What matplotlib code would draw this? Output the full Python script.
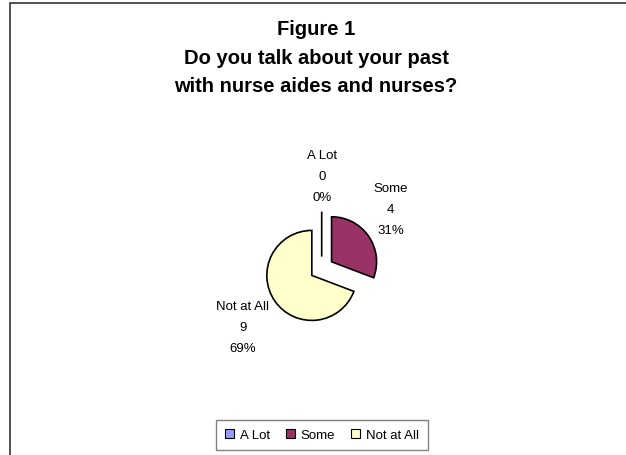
import matplotlib
matplotlib.use("Agg")
import matplotlib.pyplot as plt
import numpy as np
from matplotlib.patches import Patch, Rectangle

plt.rcParams["font.family"] = ["Liberation Sans", "DejaVu Sans"]

# respostas
categorias = ["A Lot", "Some", "Not at All"]
contagens = [0, 4, 9]
cores = ["#9999FF", "#993366", "#FFFFCC"]

titulo = "Figure 1\nDo you talk about your past\nwith nurse aides and nurses?"

W, H = 626, 456
fig = plt.figure(figsize=(W / 100, H / 100), dpi=100)
ax = fig.add_axes([0, 0, 1, 1])

# moldura do gráfico (borda esquerda e superior visíveis)
fig.add_artist(Rectangle((9.5 / W, -0.1), 1.2, 1.1 - 3.5 / H, transform=fig.transFigure,
                         fill=False, edgecolor="#222222", linewidth=1.1))

# pizza em coordenadas de pixel (y para cima)
centro = (321.7, H - 269.6)
raio = 45
wedges, _ = ax.pie(contagens, colors=cores, startangle=90, counterclock=False,
                   center=centro, radius=raio, explode=[12, 12, 12],
                   wedgeprops=dict(edgecolor="black", linewidth=1.2))
ax.set_xlim(0, W)
ax.set_ylim(0, H)
ax.set_aspect("equal")
ax.axis("off")

# rótulos: nome, contagem e percentual
total = sum(contagens)
ang_rot = [90, 42, 217]
dist_rot = [1.8, 1.76, 1.92]
for w, nome, v, a, dd in zip(wedges, categorias, contagens, ang_rot, dist_rot):
    cx, cy = w.center
    tx = cx + dd * raio * np.cos(np.radians(a))
    ty = cy + dd * raio * np.sin(np.radians(a))
    ax.text(tx, ty, f"{nome}\n{v}\n{100 * v / total:.0f}%", ha="center", va="center",
            fontsize=9.5, linespacing=2.0)

fig.text(316 / W, 1 - 20 / H, titulo, ha="center", va="top", fontsize=14.5,
         fontweight="bold", linespacing=1.65)

handles = [Patch(facecolor=c, edgecolor="black", linewidth=0.8, label=n)
           for c, n in zip(cores, categorias)]
leg = fig.legend(handles=handles, loc="center", bbox_to_anchor=(322 / W, 1 - 436 / H),
                 ncol=3, fontsize=9.5, frameon=True, fancybox=False, framealpha=1,
                 edgecolor="#808080", handlelength=0.7, handleheight=0.7,
                 handletextpad=0.45, columnspacing=1.2, borderpad=0.65)
leg.get_frame().set_linewidth(1.0)

fig.savefig("out.png", dpi=100)
